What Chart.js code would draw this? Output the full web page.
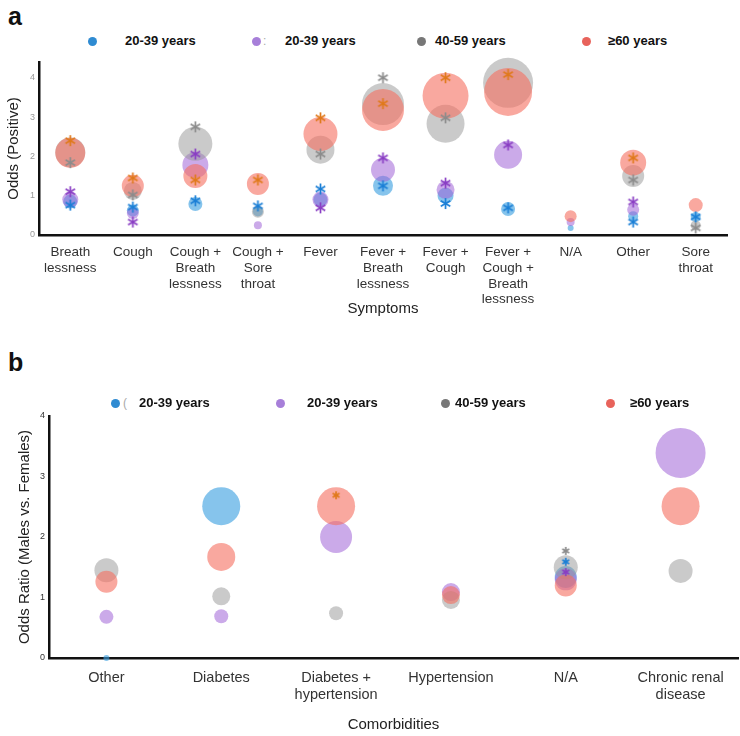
<!DOCTYPE html>
<html>
<head>
<meta charset="utf-8">
<script src="https://cdn.jsdelivr.net/npm/chart.js@4.4.1/dist/chart.umd.min.js"></script>
<style>
body { margin: 0; background: #fff; font-family: "Liberation Sans", Arial, sans-serif; }
#wrap { position: relative; width: 740px; height: 736px; overflow: hidden; }
#wrap canvas { position: absolute; left: 0; }
.panel { position: absolute; left: 8px; font-weight: bold; font-size: 25px; line-height: 28px; color: #111; }
.leg { position: absolute; font-weight: bold; font-size: 13px; line-height: 16px; color: #111; white-space: nowrap; }
.dot { position: absolute; width: 9px; height: 9px; border-radius: 50%; }
.stray { position: absolute; font-size: 12px; line-height: 16px; color: #aaa; }
</style>
</head>
<body>
<div id="wrap">
  <div class="panel" style="top:2px">a</div>
  <div class="panel" style="top:348px">b</div>
  <div class="stray" style="left:263px;top:33px">:</div>
  <div class="stray" style="left:123px;top:395px">(</div>
  <canvas id="symptomChart" width="740" height="270" style="top:50px"></canvas>
  <canvas id="comorbChart" width="740" height="336" style="top:400px"></canvas>
</div>
<script>
// legend
const legendLabels = ['20-39 years', '20-39 years', '40-59 years', '≥60 years'];
const legendDotColors = ['#2f8bd2', '#a77fd9', '#777777', '#e8635b'];

// panel a: symptoms
const symptoms = [
    ['Breath', 'lessness'], ['Cough'], ['Cough +', 'Breath', 'lessness'], ['Cough +', 'Sore', 'throat'],
    ['Fever'], ['Fever +', 'Breath', 'lessness'], ['Fever +', 'Cough'], ['Fever +', 'Cough +', 'Breath', 'lessness'],
    ['N/A'], ['Other'], ['Sore', 'throat']
];
const symBlue   = [0.85, 0.62, 0.79, 0.60, 0.90, 1.25, 1.00, 0.66, 0.18, 0.48, 0.46];
const symPurple = [0.90, 0.56, 1.78, 0.25, 0.90, 1.66, 1.15, 2.04, 0.33, 0.64, null];
const symGray   = [2.10, 1.12, 2.32, 0.59, 2.17, 3.33, 2.83, 3.87, null, 1.50, 0.25];
const symRed    = [2.09, 1.25, 1.50, 1.30, 2.57, 3.18, 3.54, 3.64, 0.48, 1.84, 0.76];
const symBlueR   = [7, 6, 7, 5, 7, 10, 8, 7, 3, 5, 5];
const symPurpleR = [8, 6, 13, 4, 8, 12, 9, 14, 4, 6, null];
const symGrayR   = [15, 9, 17, 6, 14, 21, 19, 25, null, 11, 5];
const symRedR    = [15, 11, 12, 11, 17, 21, 23, 24, 6, 13, 7];
// significance asterisks
const symBlueSig   = [0.76, 0.71, 0.87, 0.74, 1.17, 1.25, 0.80, 0.69, null, 0.33, 0.46];
const symPurpleSig = [1.10, 0.33, 2.06, null, 0.69, 1.96, 1.32, 2.29, null, 0.84, null];
const symGraySig   = [1.84, 1.02, 2.75, null, 2.06, 4.00, 2.98, 4.64, null, 1.40, 0.18];
const symRedSig    = [2.40, 1.45, 1.40, 1.40, 2.98, 3.34, 4.00, 4.08, null, 1.96, null];
const symYTicks = [0, 1, 2, 3, 4];

// panel b: comorbidities
const comorbidities = [['Other'], ['Diabetes'], ['Diabetes +', 'hypertension'], ['Hypertension'], ['N/A'], ['Chronic renal', 'disease']];
const comBlue   = [0.00, 2.51, null, null, 1.34, null];
const comPurple = [0.68, 0.69, 2.00, 1.09, 1.30, 3.39];
const comGray   = [1.45, 1.02, 0.74, 0.96, 1.50, 1.44];
const comRed    = [1.26, 1.67, 2.51, 1.04, 1.20, 2.51];
const comBlueR   = [3, 19, null, null, 11, null];
const comPurpleR = [7, 7, 16, 9, 11, 25];
const comGrayR   = [12, 9, 7, 9, 12, 12];
const comRedR    = [11, 14, 19, 9, 11, 19];
const comBlueSig   = [null, null, null, null, 1.59, null];
const comPurpleSig = [null, null, null, null, 1.42, null];
const comGraySig   = [null, null, null, null, 1.77, null];
const comRedSig    = [null, null, 2.69, null, null, null];
const comYTicks = [0, 1, 2, 3, 4];

const fills = ['rgba(60,160,225,0.62)', 'rgba(160,100,215,0.55)', 'rgba(150,150,150,0.5)', 'rgba(245,110,95,0.6)'];
const starColors = ['#1b7fd6', '#8a3fc4', '#8c8c8c', '#e07a1c'];

// legend in html
const wrap = document.getElementById('wrap');
function addLegend(top, dotX, textX) {
    legendLabels.forEach((t, i) => {
        const d = document.createElement('div');
        d.className = 'dot';
        d.style.left = (dotX[i] - 4.5) + 'px';
        d.style.top = (top - 4.5) + 'px';
        d.style.background = legendDotColors[i];
        wrap.appendChild(d);
        const s = document.createElement('div');
        s.className = 'leg';
        s.style.left = textX[i] + 'px';
        s.style.top = (top - 8) + 'px';
        s.textContent = t;
        wrap.appendChild(s);
    });
}
addLegend(41, [92, 256, 421, 586], [125, 285, 435, 608]);
addLegend(403, [115, 280, 445, 610], [139, 307, 455, 630]);

function makeStar(color, size) {
    const c = document.createElement('canvas');
    c.width = size; c.height = size;
    const g = c.getContext('2d');
    g.strokeStyle = color;
    g.lineWidth = 1.7;
    const h = size / 2;
    for (let k = 0; k < 3; k++) {
        const a = Math.PI / 2 + k * Math.PI / 3;
        g.beginPath();
        g.moveTo(h + Math.cos(a) * (h - 1), h + Math.sin(a) * (h - 1));
        g.lineTo(h - Math.cos(a) * (h - 1), h - Math.sin(a) * (h - 1));
        g.stroke();
    }
    return c;
}

function bubbles(vals, sizes) {
    return vals.map((v, i) => v == null ? null : { x: i, y: v, r: sizes[i] }).filter(Boolean);
}
function points(vals) {
    return vals.map((v, i) => v == null ? null : { x: i, y: v }).filter(Boolean);
}

function buildChart(id, cfg) {
    const series = cfg.series;
    const datasets = [];
    series.forEach((s, i) => {
        datasets.push({
            type: 'bubble',
            data: bubbles(s.vals, s.sizes),
            backgroundColor: fills[i],
            borderWidth: 0,
            clip: false,
            order: 4 - i
        });
    });
    series.forEach((s, i) => {
        datasets.push({
            type: 'scatter',
            data: points(s.sig),
            pointStyle: makeStar(starColors[i], cfg.starSize),
            clip: false,
            order: 0
        });
    });

    return new Chart(document.getElementById(id).getContext('2d'), {
        type: 'bubble',
        data: { datasets: datasets },
        options: {
            responsive: false,
            animation: false,
            events: [],
            layout: { padding: cfg.padding, autoPadding: false },
            plugins: { legend: { display: false }, tooltip: { enabled: false } },
            scales: {
                x: {
                    type: 'linear',
                    min: -0.5,
                    max: cfg.cats.length - 0.5,
                    afterBuildTicks: s => { s.ticks = cfg.cats.map((c, i) => ({ value: i })); },
                    afterFit: s => { s.height = cfg.xHeight; },
                    grid: { display: true, drawOnChartArea: false, drawTicks: false },
                    border: { color: '#111', width: 2.5 },
                    ticks: {
                        autoSkip: false,
                        maxRotation: 0,
                        padding: cfg.xPad,
                        color: '#333',
                        font: { family: 'Liberation Sans', size: cfg.xFont, lineHeight: cfg.xLine },
                        callback: v => cfg.cats[v]
                    },
                    title: {
                        display: true,
                        text: cfg.xTitle,
                        color: '#222',
                        font: { family: 'Liberation Sans', size: 15 },
                        padding: { top: 0, bottom: 2 }
                    }
                },
                y: {
                    min: 0,
                    max: cfg.yMax,
                    afterBuildTicks: s => { s.ticks = cfg.yTicks.map(v => ({ value: v })); },
                    afterFit: s => { s.width = cfg.yWidth; },
                    grid: { display: true, drawOnChartArea: false, drawTicks: false },
                    border: { color: '#111', width: 2.5 },
                    ticks: {
                        padding: 4,
                        color: cfg.yTickColor,
                        font: { family: 'Liberation Sans', size: 9 }
                    },
                    title: {
                        display: true,
                        text: cfg.yTitle,
                        color: '#222',
                        font: { family: 'Liberation Sans', size: 15 },
                        padding: { top: cfg.yTitlePad, bottom: 0 }
                    }
                }
            }
        }
    });
}

buildChart('symptomChart', {
    cats: symptoms,
    series: [
        { vals: symBlue, sizes: symBlueR, sig: symBlueSig },
        { vals: symPurple, sizes: symPurpleR, sig: symPurpleSig },
        { vals: symGray, sizes: symGrayR, sig: symGraySig },
        { vals: symRed, sizes: symRedR, sig: symRedSig }
    ],
    starSize: 13,
    padding: { top: 12, right: 13, left: 0, bottom: 0 },
    xHeight: 85, xPad: 10, xFont: 13.5, xLine: 1.15,
    yWidth: 39, yMax: 4.4, yTicks: symYTicks,
    yTickColor: '#999', yTitlePad: 5,
    xTitle: 'Symptoms', yTitle: 'Odds (Positive)'
});

buildChart('comorbChart', {
    cats: comorbidities,
    series: [
        { vals: comBlue, sizes: comBlueR, sig: comBlueSig },
        { vals: comPurple, sizes: comPurpleR, sig: comPurpleSig },
        { vals: comGray, sizes: comGrayR, sig: comGraySig },
        { vals: comRed, sizes: comRedR, sig: comRedSig }
    ],
    starSize: 10,
    padding: { top: 16, right: 2, left: 0, bottom: 0 },
    xHeight: 78, xPad: 12, xFont: 14.5, xLine: 1.15,
    yWidth: 49, yMax: 4, yTicks: comYTicks,
    yTickColor: '#333', yTitlePad: 16,
    xTitle: 'Comorbidities', yTitle: 'Odds Ratio (Males vs. Females)'
});
</script>
</body>
</html>
